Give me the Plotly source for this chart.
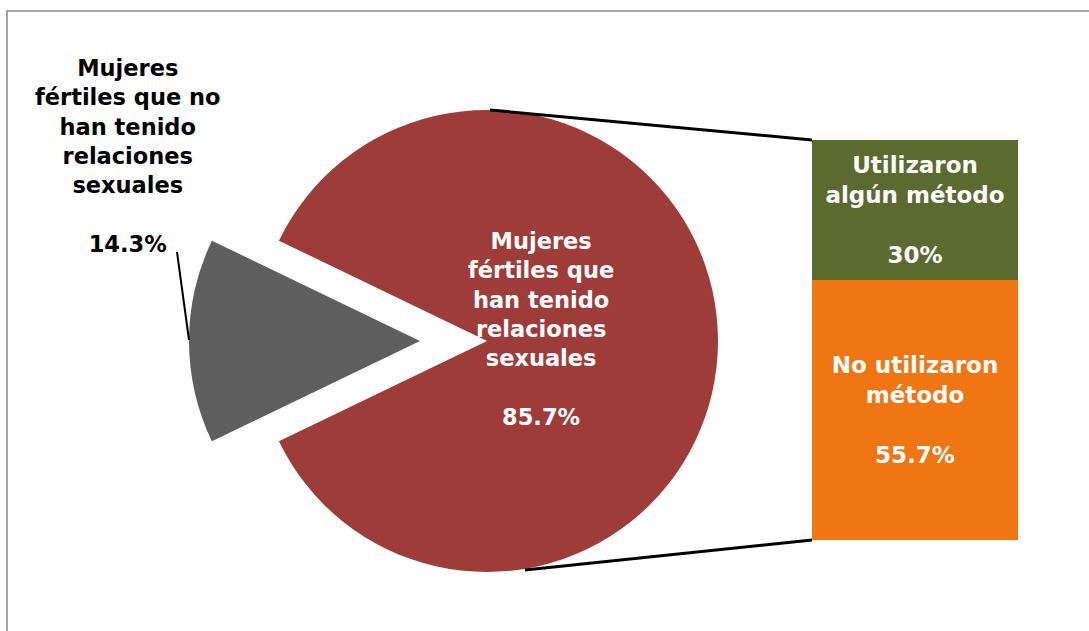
import plotly.graph_objects as go

# ---------------- data ----------------
pie_labels = ["Mujeres fértiles que no han tenido relaciones sexuales",
              "Mujeres fértiles que han tenido relaciones sexuales"]
pie_values = [14.3, 85.7]
pie_colors = ["#5E5E5E", "#9E3C3A"]

bar_labels = ["No utilizaron método", "Utilizaron algún método"]
bar_values = [55.7, 30]
bar_colors = ["#F07513", "#5B6A2F"]
bar_texts = ["No utilizaron<br>método<br><br>55.7%",
             "Utilizaron<br>algún método<br><br>30%"]

gray_label = "Mujeres<br>fértiles que no<br>han tenido<br>relaciones<br>sexuales<br><br>14.3%"
red_label = "Mujeres<br>fértiles que<br>han tenido<br>relaciones<br>sexuales<br><br>85.7%"

# ---------------- layout geometry (pixels) ----------------
W, H = 1089, 631
cx, cy, r = 487, 341, 231      # pie centre / radius
explode = 67                   # offset of detached slice
bx0, bx1, by0, by1 = 812, 1018, 140, 540   # secondary bar box

def fx(x):
    return x / W

def fy(y):
    return 1 - y / H

FONT = "DejaVu Sans"
TRANSP = "rgba(0,0,0,0)"

# rotation so that the first slice is centred at 9 o'clock
half = 360 * pie_values[0] / sum(pie_values) / 2
rot = 270 - half

fig = go.Figure()

# detached (gray) slice
fig.add_trace(go.Pie(
    labels=pie_labels, values=pie_values, sort=False, direction="clockwise",
    rotation=rot, textinfo="none", showlegend=False,
    marker=dict(colors=[pie_colors[0], TRANSP], line=dict(width=0)),
    domain=dict(x=[fx(cx - explode - r), fx(cx - explode + r)],
                y=[fy(cy + r), fy(cy - r)]),
))
# main (red) slice
fig.add_trace(go.Pie(
    labels=pie_labels, values=pie_values, sort=False, direction="clockwise",
    rotation=rot, textinfo="none", showlegend=False,
    marker=dict(colors=[TRANSP, pie_colors[1]], line=dict(width=0)),
    domain=dict(x=[fx(cx - r), fx(cx + r)],
                y=[fy(cy + r), fy(cy - r)]),
))

# stacked bar
for lab, val, col, txt in zip(bar_labels, bar_values, bar_colors, bar_texts):
    fig.add_trace(go.Bar(
        x=[0], y=[val], name=lab, width=1, marker=dict(color=col, line=dict(width=0)),
        text=[txt], textposition="inside", insidetextanchor="middle",
        textfont=dict(family=FONT, size=23, color="white", weight="bold"),
        showlegend=False, xaxis="x", yaxis="y",
    ))

fig.update_layout(
    width=W, height=H,
    margin=dict(l=0, r=0, t=0, b=0),
    paper_bgcolor="white", plot_bgcolor="rgba(0,0,0,0)",
    barmode="stack",
    xaxis=dict(domain=[fx(bx0), fx(bx1)], range=[-0.5, 0.5], visible=False, fixedrange=True),
    yaxis=dict(domain=[fy(by1), fy(by0)], range=[0, sum(bar_values)], visible=False, fixedrange=True),
    font=dict(family=FONT),
)

line_style = dict(color="black", width=3)
shapes = [
    # outer frame
    dict(type="rect", xref="paper", yref="paper", x0=fx(7), y0=-0.05, x1=1.05, y1=fy(11),
         line=dict(color="#8C8C8C", width=1.5), fillcolor=TRANSP, layer="below"),
    # connectors pie -> bar
    dict(type="line", xref="paper", yref="paper", x0=fx(490), y0=fy(110), x1=fx(bx0), y1=fy(by0),
         line=line_style),
    dict(type="line", xref="paper", yref="paper", x0=fx(525), y0=fy(570), x1=fx(bx0), y1=fy(by1),
         line=line_style),
    # leader line of gray label
    dict(type="line", xref="paper", yref="paper", x0=fx(177), y0=fy(252), x1=fx(189), y1=fy(340),
         line=dict(color="black", width=2)),
]
fig.update_layout(shapes=shapes)

fig.add_annotation(x=fx(128), y=fy(156), xref="paper", yref="paper", text=gray_label,
                   showarrow=False, align="center", xanchor="center", yanchor="middle",
                   font=dict(family=FONT, size=22.5, color="black", weight="bold"))
fig.add_annotation(x=fx(541), y=fy(329), xref="paper", yref="paper", text=red_label,
                   showarrow=False, align="center", xanchor="center", yanchor="middle",
                   font=dict(family=FONT, size=22.5, color="white", weight="bold"))

fig.write_html("out.html", config={"displayModeBar": False},
               post_script="document.body.style.margin='0';document.body.style.overflow='hidden';")
